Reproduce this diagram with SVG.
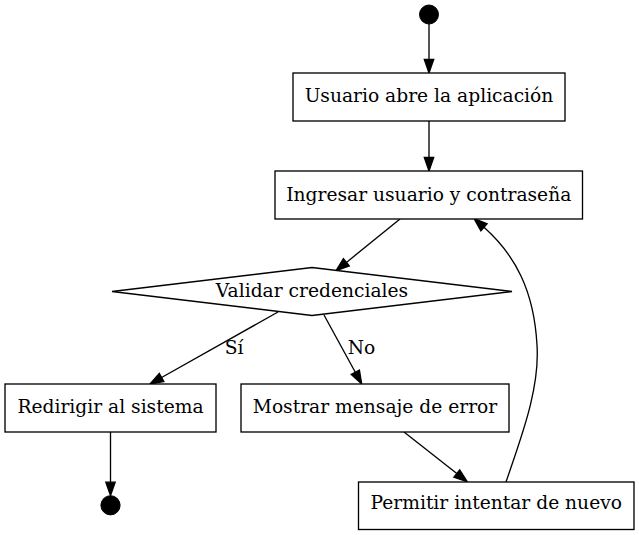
<svg xmlns="http://www.w3.org/2000/svg" width="639" height="535" viewBox="0 0 639 535">
<style>
.n{fill:#fff;stroke:#000;stroke-width:1.33}
.t{font-family:"DejaVu Serif",serif;font-size:18.67px;fill:#000;text-anchor:middle}
.e{fill:none;stroke:#000;stroke-width:1.33}
.h{fill:#000;stroke:#000;stroke-width:1.33}
.p{fill:#000;stroke:#000;stroke-width:1}
</style>
<rect width="639" height="535" fill="#fff"/>
<g id="edges">
<path class="e" d="M429,24 L429,59.5"/>
<polygon class="h" points="424.3,59.5 433.7,59.5 429,73"/>
<path class="e" d="M429,121 L429,157.5"/>
<polygon class="h" points="424.3,157.5 433.7,157.5 429,171"/>
<path class="e" d="M400,219 L346.4,262.4"/>
<polygon class="h" points="349.3,266 343.4,258.7 336,270.7"/>
<path class="e" d="M278,312 L161.6,377.5"/>
<polygon class="h" points="163.9,381.6 159.3,373.4 150,384"/>
<text class="t" x="234" y="354">Sí</text>
<path class="e" d="M324,315 L355.3,372.3"/>
<polygon class="h" points="359.4,370.1 351.2,374.5 361.7,384"/>
<text class="t" x="361.5" y="354">No</text>
<path class="e" d="M110.5,432 L110.5,482.2"/>
<polygon class="h" points="105.8,482.2 115.2,482.2 110.5,495.5"/>
<path class="e" d="M404,432 L456.8,473.5"/>
<polygon class="h" points="459.7,469.8 453.9,477.2 467.3,481.7"/>
<path class="e" d="M506,482 C520,440 540,390 537,345 C534,290 515,255 484,227.3"/>
<polygon class="h" points="480.9,230.8 487.1,223.8 474,218.5"/>
</g>
<g id="start"><circle class="p" cx="429" cy="14.5" r="9.5"/></g>
<g id="abre"><rect class="n" x="293" y="73" width="272" height="48"/><text class="t" x="429" y="102">Usuario abre la aplicación</text></g>
<g id="ingresar"><rect class="n" x="275" y="171" width="307.5" height="48"/><text class="t" x="428.75" y="201">Ingresar usuario y contraseña</text></g>
<g id="validar"><polygon class="n" points="112,291.5 312,267.5 512,291.5 312,315.5"/><text class="t" x="312" y="297">Validar credenciales</text></g>
<g id="redirigir"><rect class="n" x="5" y="384" width="211" height="48"/><text class="t" x="110.5" y="413">Redirigir al sistema</text></g>
<g id="mostrar"><rect class="n" x="241" y="384" width="268" height="48"/><text class="t" x="375" y="413">Mostrar mensaje de error</text></g>
<g id="permitir"><rect class="n" x="358.5" y="482" width="275.5" height="47.5"/><text class="t" x="496.25" y="508.5">Permitir intentar de nuevo</text></g>
<g id="end"><circle class="p" cx="110.5" cy="505.3" r="9.6"/></g>
</svg>
